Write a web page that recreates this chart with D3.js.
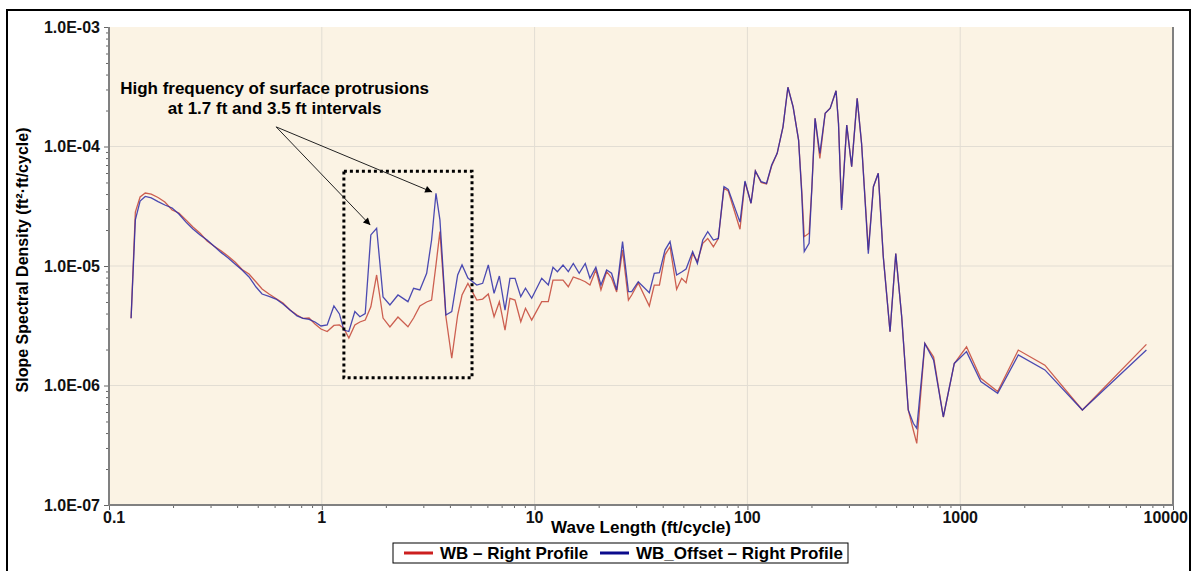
<!DOCTYPE html>
<html>
<head>
<meta charset="utf-8">
<style>
  body { margin: 0; background-color: white; }
  svg { display: block; font-family: Arial, "Liberation Sans", sans-serif; }
  .tick-label { font-weight: bold; fill: #111; }
  .grid { stroke: #e2ddd3; stroke-width: 1; }
</style>
</head>
<body>
<svg width="1191" height="571"></svg>
<script src="https://cdn.jsdelivr.net/npm/d3@7"></script>
<script>

// wave length (ft/cycle)
var wavelength = [0.127,0.133,0.140,0.148,0.158,0.170,0.183,0.198,0.213,0.230,
  0.248,0.268,0.289,0.311,0.336,0.362,0.391,0.422,0.455,0.491,
  0.524,0.565,0.609,0.657,0.709,0.765,0.816,0.871,0.929,0.991,
  1.06,1.14,1.21,1.27,1.34,1.43,1.51,1.60,1.70,1.81,
  1.94,2.09,2.28,2.54,2.70,2.89,3.11,3.28,3.44,3.59,
  3.83,4.08,4.35,4.56,4.86,5.35,5.70,6.06,6.45,6.83,
  7.26,7.66,8.09,8.61,9.06,9.69,10.8,11.6,12.2,12.8,
  13.6,14.4,15.2,16.2,17.3,18.2,19.4,20.5,21.8,23.0,
  24.3,25.9,27.6,28.6,30.7,34.6,36.5,38.6,41.0,43.3,
  46.5,49.1,51.5,55.3,58.2,61.7,65.1,69.2,73.0,77.6,
  81.3,92.3,97.4,104,109,116,123,130,138,147,
  155,164,174,180,185,195,201,208,219,232,
  245,261,268,277,293,309,328,344,370,391,
  412,435,468,498,531,570,602,625,682,750,
  833,938,1071,1250,1500,1875,2500,3750,7500];

// WB - Right Profile (red)
var wbRight = [3.65e-6,2.83e-5,3.78e-5,4.08e-5,4.00e-5,3.74e-5,3.43e-5,2.94e-5,2.78e-5,2.43e-5,
  2.12e-5,1.88e-5,1.62e-5,1.47e-5,1.34e-5,1.21e-5,1.08e-5,9.35e-6,8.57e-6,7.35e-6,
  6.42e-6,5.83e-6,5.35e-6,4.90e-6,4.28e-6,3.89e-6,3.64e-6,3.67e-6,3.27e-6,2.97e-6,
  2.83e-6,3.18e-6,3.21e-6,3.00e-6,2.50e-6,3.21e-6,3.40e-6,3.53e-6,4.56e-6,8.41e-6,
  3.67e-6,3.09e-6,3.74e-6,3.10e-6,3.67e-6,4.63e-6,5.00e-6,5.19e-6,1.02e-5,1.94e-5,
  3.76e-6,1.69e-6,3.89e-6,5.72e-6,7.16e-6,5.19e-6,5.29e-6,5.83e-6,3.76e-6,5.03e-6,
  2.91e-6,5.37e-6,5.19e-6,3.42e-6,4.43e-6,3.53e-6,5.03e-6,5.03e-6,7.63e-6,7.63e-6,
  7.63e-6,6.71e-6,8.09e-6,7.78e-6,7.39e-6,6.93e-6,9.26e-6,6.30e-6,8.96e-6,7.94e-6,
  6.06e-6,1.36e-5,5.19e-6,5.72e-6,7.21e-6,4.63e-6,6.93e-6,6.93e-6,1.24e-5,1.45e-5,
  6.38e-6,7.89e-6,7.25e-6,1.27e-5,1.09e-5,1.55e-5,1.70e-5,1.45e-5,1.70e-5,4.47e-5,
  4.24e-5,2.03e-5,5.05e-5,3.35e-5,6.24e-5,5.00e-5,4.86e-5,6.87e-5,8.77e-5,1.46e-4,
  3.13e-4,2.15e-4,1.13e-4,4.33e-5,1.76e-5,1.88e-5,4.61e-5,1.72e-4,7.96e-5,1.90e-4,
  2.09e-4,2.93e-4,1.56e-4,3.06e-5,1.51e-4,6.78e-5,2.53e-4,1.06e-4,1.36e-5,4.61e-5,
  5.97e-5,1.20e-5,2.82e-6,1.27e-5,3.76e-6,6.24e-7,4.24e-7,3.28e-7,2.25e-6,1.73e-6,
  5.45e-7,1.53e-6,2.11e-6,1.15e-6,8.91e-7,1.98e-6,1.48e-6,6.24e-7,2.21e-6];

// WB_Offset - Right Profile (blue)
var wbOffset = [3.65e-6,2.43e-5,3.50e-5,3.82e-5,3.71e-5,3.46e-5,3.24e-5,3.06e-5,2.72e-5,2.33e-5,
  2.04e-5,1.82e-5,1.65e-5,1.47e-5,1.30e-5,1.17e-5,1.04e-5,9.26e-6,8.09e-6,6.67e-6,
  5.83e-6,5.56e-6,5.29e-6,4.81e-6,4.28e-6,3.82e-6,3.64e-6,3.57e-6,3.40e-6,3.15e-6,
  3.21e-6,4.63e-6,3.97e-6,2.91e-6,2.83e-6,4.16e-6,3.76e-6,4.00e-6,1.82e-5,2.07e-5,
  5.50e-6,4.72e-6,5.72e-6,5.03e-6,6.51e-6,6.30e-6,8.69e-6,1.65e-5,4.06e-5,2.43e-5,
  3.89e-6,4.15e-6,8.41e-6,1.02e-5,7.94e-6,6.93e-6,7.16e-6,1.02e-5,5.91e-6,8.25e-6,
  4.28e-6,7.89e-6,7.89e-6,5.54e-6,6.51e-6,5.37e-6,7.89e-6,6.93e-6,9.75e-6,8.96e-6,
  1.02e-5,8.96e-6,1.05e-5,8.69e-6,1.05e-5,7.89e-6,9.75e-6,6.93e-6,9.26e-6,8.69e-6,
  6.30e-6,1.60e-5,6.10e-6,6.10e-6,7.39e-6,5.98e-6,8.69e-6,8.79e-6,1.36e-5,1.60e-5,
  8.41e-6,8.91e-6,9.44e-6,1.32e-5,1.05e-5,1.65e-5,1.94e-5,1.65e-5,1.70e-5,4.61e-5,
  4.38e-5,2.33e-5,5.14e-5,3.35e-5,6.24e-5,5.08e-5,4.92e-5,7.00e-5,8.77e-5,1.46e-4,
  3.13e-4,2.15e-4,1.13e-4,4.06e-5,1.32e-5,1.55e-5,4.61e-5,1.72e-4,8.77e-5,1.90e-4,
  2.09e-4,2.93e-4,1.56e-4,2.94e-5,1.51e-4,6.78e-5,2.53e-4,1.06e-4,1.27e-5,4.61e-5,
  5.97e-5,1.20e-5,2.82e-6,1.27e-5,3.76e-6,6.24e-7,4.83e-7,4.38e-7,2.25e-6,1.63e-6,
  5.45e-7,1.53e-6,1.92e-6,1.08e-6,8.60e-7,1.80e-6,1.35e-6,6.24e-7,1.98e-6];

var xTicks = [0.1, 1, 10, 100, 1000, 10000];
var xTickLabels = ["0.1", "1", "10", "100", "1000", "10000"];
var yTicks = [1e-3, 1e-4, 1e-5, 1e-6, 1e-7];
var yTickLabels = ["1.0E-03", "1.0E-04", "1.0E-05", "1.0E-06", "1.0E-07"];

var svg = d3.select("svg");

var x = d3.scaleLog().domain([0.1, 10000]).range([109, 1173]);
var y = d3.scaleLog().domain([1e-7, 1e-3]).range([505, 27]);

// outer frame
svg.append("rect")
    .attr("x", 7).attr("y", 10)
    .attr("width", 1183).attr("height", 575)
    .attr("fill", "white")
    .attr("stroke", "black")
    .attr("stroke-width", 2);

// plot background
svg.append("rect")
    .attr("x", x(0.1)).attr("y", y(1e-3))
    .attr("width", x(10000) - x(0.1))
    .attr("height", y(1e-7) - y(1e-3))
    .attr("fill", "#fbf3e4");

// grid
svg.append("g").selectAll("line")
    .data(xTicks.slice(1, -1))
    .enter().append("line")
    .attr("class", "grid")
    .attr("x1", function(d) { return x(d); })
    .attr("x2", function(d) { return x(d); })
    .attr("y1", y(1e-3)).attr("y2", y(1e-7));

svg.append("g").selectAll("line")
    .data(yTicks.slice(1, -1))
    .enter().append("line")
    .attr("class", "grid")
    .attr("y1", function(d) { return y(d); })
    .attr("y2", function(d) { return y(d); })
    .attr("x1", x(0.1)).attr("x2", x(10000));

// axes with minor ticks
var xMinor = x.ticks().filter(function(d) { return xTicks.indexOf(d) < 0; });
var yMinor = y.ticks().filter(function(d) { return yTicks.indexOf(d) < 0; });

var xAxis = svg.append("g").attr("transform", "translate(0," + y(1e-7) + ")");
xAxis.call(d3.axisBottom(x).tickValues(xTicks).tickSize(5).tickFormat(""));
xAxis.append("g").call(d3.axisBottom(x).tickValues(xMinor).tickSize(3).tickFormat(""));
xAxis.selectAll("path").remove();
xAxis.selectAll("line").attr("stroke", "#666");

var yAxis = svg.append("g").attr("transform", "translate(" + x(0.1) + ",0)");
yAxis.call(d3.axisLeft(y).tickValues(yTicks).tickSize(5).tickFormat(""));
yAxis.append("g").call(d3.axisLeft(y).tickValues(yMinor).tickSize(3).tickFormat(""));
yAxis.selectAll("path").remove();
yAxis.selectAll("line").attr("stroke", "#666");

// plot border lines (left, bottom, right)
svg.append("path")
    .attr("d", "M" + x(0.1) + "," + y(1e-3) + "V" + y(1e-7) + "H" + x(10000) + "V" + y(1e-3))
    .attr("fill", "none")
    .attr("stroke", "#808080")
    .attr("stroke-width", 2);

// tick labels (first and last are pulled inside like the original)
var nx = xTicks.length;
svg.append("g").selectAll("text")
    .data(xTicks)
    .enter().append("text")
    .attr("class", "tick-label")
    .attr("x", function(d, i) {
      if (i === 0) return x(d) - 6;
      if (i === nx - 1) return x(d) + 15;
      return x(d);
    })
    .attr("y", 523)
    .attr("text-anchor", function(d, i) {
      return i === 0 ? "start" : (i === nx - 1 ? "end" : "middle");
    })
    .style("font-size", "16px")
    .text(function(d, i) { return xTickLabels[i]; });

svg.append("g").selectAll("text")
    .data(yTicks)
    .enter().append("text")
    .attr("class", "tick-label")
    .attr("x", 100)
    .attr("y", function(d) { return y(d); })
    .attr("dy", "0.35em")
    .attr("text-anchor", "end")
    .style("font-size", "16px")
    .text(function(d, i) { return yTickLabels[i]; });

// axis titles
svg.append("text")
    .attr("x", 641).attr("y", 533)
    .attr("text-anchor", "middle")
    .style("font-size", "17px")
    .style("font-weight", "bold")
    .text("Wave Length (ft/cycle)");

svg.append("text")
    .attr("transform", "translate(28,260) rotate(-90)")
    .attr("text-anchor", "middle")
    .style("font-size", "16px")
    .style("font-weight", "bold")
    .text("Slope Spectral Density (ft²·ft/cycle)");

// series
var line = d3.line()
    .x(function(d) { return x(d[0]); })
    .y(function(d) { return y(d[1]); });

svg.append("path")
    .datum(d3.zip(wavelength, wbRight))
    .attr("d", line)
    .attr("fill", "none")
    .attr("stroke", "#c0392b")
    .attr("stroke-opacity", 0.8)
    .attr("stroke-width", 1.3);

svg.append("path")
    .datum(d3.zip(wavelength, wbOffset))
    .attr("d", line)
    .attr("fill", "none")
    .attr("stroke", "#2b2ba8")
    .attr("stroke-opacity", 0.85)
    .attr("stroke-width", 1.3);

// annotation: dotted box around 1.3 - 5 ft
svg.append("rect")
    .attr("x", x(1.27)).attr("y", y(6.2e-5))
    .attr("width", x(5.08) - x(1.27))
    .attr("height", y(1.16e-6) - y(6.2e-5))
    .attr("fill", "none")
    .attr("stroke", "black")
    .attr("stroke-width", 3)
    .attr("stroke-dasharray", "3,3");

svg.append("defs").append("marker")
    .attr("id", "arrow")
    .attr("viewBox", "0 0 10 10")
    .attr("refX", 10).attr("refY", 5)
    .attr("markerWidth", 9).attr("markerHeight", 7)
    .attr("markerUnits", "userSpaceOnUse")
    .attr("orient", "auto")
    .append("path")
    .attr("d", "M0,0L10,5L0,10z")
    .attr("fill", "black");

var arrowFrom = [0.61, 1.46e-4];
var arrowTo = [[1.69, 2.2e-5], [3.30, 4.16e-5]];

svg.append("g").selectAll("line")
    .data(arrowTo)
    .enter().append("line")
    .attr("x1", x(arrowFrom[0])).attr("y1", y(arrowFrom[1]))
    .attr("x2", function(d) { return x(d[0]); })
    .attr("y2", function(d) { return y(d[1]); })
    .attr("stroke", "#222")
    .attr("stroke-width", 1)
    .attr("marker-end", "url(#arrow)");

var note = svg.append("text")
    .attr("x", x(0.6)).attr("y", y(2.75e-4))
    .attr("text-anchor", "middle")
    .style("font-size", "17px")
    .style("font-weight", "bold");
note.append("tspan").attr("x", x(0.6)).text("High frequency of surface protrusions");
note.append("tspan").attr("x", x(0.6)).attr("dy", 20).text("at 1.7 ft and 3.5 ft intervals");

// legend
var legend = svg.append("g").attr("transform", "translate(393,543)");
legend.append("rect")
    .attr("width", 455).attr("height", 20)
    .attr("fill", "white")
    .attr("stroke", "black")
    .attr("stroke-width", 1);

var legendItems = [
  {label: "WB \u2013 Right Profile", color: "#cc1f1f", x: 11},
  {label: "WB_Offset \u2013 Right Profile", color: "#0a0a8c", x: 207}
];

var li = legend.selectAll(".li")
    .data(legendItems)
    .enter().append("g")
    .attr("transform", function(d) { return "translate(" + d.x + ",10)"; });

li.append("line")
    .attr("x1", 0).attr("x2", 29)
    .attr("stroke", function(d) { return d.color; })
    .attr("stroke-width", 3);

li.append("text")
    .attr("x", 36).attr("dy", "0.36em")
    .style("font-size", "17px")
    .style("font-weight", "bold")
    .text(function(d) { return d.label; });

</script>
</body>
</html>
